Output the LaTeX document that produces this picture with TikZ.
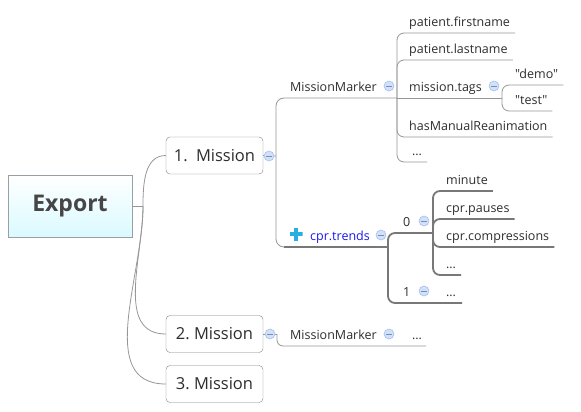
\documentclass[tikz,border=0pt]{standalone}
\usepackage{fontspec}
\setmainfont{Open Sans}[Ligatures=TeXOff]
\usetikzlibrary{positioning}

\definecolor{linegray}{RGB}{150,150,150}
\definecolor{darkline}{RGB}{120,120,120}
\definecolor{boxedge}{RGB}{130,130,130}
\definecolor{txt}{RGB}{45,45,45}
\definecolor{cprblue}{RGB}{25,25,235}
\definecolor{foldfill}{RGB}{210,225,250}
\definecolor{foldedge}{RGB}{165,190,235}
\definecolor{foldmark}{RGB}{120,140,180}
\definecolor{exportfill}{RGB}{218,250,255}
\definecolor{exportedge}{RGB}{150,160,165}
\definecolor{exporttext}{RGB}{70,70,70}
\definecolor{plusfill}{RGB}{40,175,225}

\tikzset{
  line/.style={draw=linegray, line width=0.8pt},
  thickline/.style={draw=darkline, line width=1.8pt},
  exportbox/.style={draw=exportedge, top color=white, bottom color=exportfill,
    minimum width=124pt, minimum height=62pt,
    font=\fontsize{23}{26}\selectfont\bfseries, text=exporttext},
  mission/.style={draw=boxedge, rounded corners=4pt, fill=white,
    minimum width=97pt, minimum height=37pt, inner sep=0pt,
    font=\fontsize{16.5}{18}\selectfont, text=txt},
  leaf/.style={anchor=south west, inner sep=0pt, text height=9pt, text depth=6.5pt,
    font=\fontsize{12.5}{14}\selectfont, text=txt},
  foldbtn/.style={circle, draw=foldedge, fill=foldfill, minimum size=10pt,
    inner sep=0pt, line width=0.6pt,
    path picture={\draw[foldmark, line width=0.8pt]
      ([xshift=-2.6pt]path picture bounding box.center) --
      ([xshift=2.6pt]path picture bounding box.center);}},
  plusicon/.style={minimum size=13pt, inner sep=0pt,
    path picture={
      \fill[plusfill] ([shift={(-6.5pt,-2.3pt)}]path picture bounding box.center)
        rectangle ([shift={(6.5pt,2.3pt)}]path picture bounding box.center);
      \fill[plusfill] ([shift={(-2.3pt,-6.5pt)}]path picture bounding box.center)
        rectangle ([shift={(2.3pt,6.5pt)}]path picture bounding box.center);}},
}

\begin{document}
\begin{tikzpicture}[x=1pt, y=-1pt]
\useasboundingbox (0,0) rectangle (581,412);
% root and missions
\node[exportbox] (export) at (70,206) {Export};
\node[mission] (mA) at (214.5,155.5) {1.\enspace Mission};
\node[mission] (mB) at (214.5,334) {2.\ Mission};
\node[mission] (mC) at (214.5,384) {3.\ Mission};
\coordinate (root) at (143,206);
\draw[line] (export.east) -- (root);
\draw[line] (root) to[out=90,in=180] (mA.west);
\draw[line] (root) to[out=-90,in=180] (mB.west);
\draw[line] (root) to[out=-90,in=180] (mC.west);
% mission 1
\coordinate (fA) at (276,156);
\coordinate (fMM) at (397,98);
\coordinate (fTag) at (502,98);
\coordinate (cprin) at (284,247);
\coordinate (fCpr) at (388,247);
\coordinate (fZero) at (433,233);
\node[leaf] (mmA) at (290,98) {MissionMarker};
\node[leaf] (first) at (409,33) {patient.firstname};
\node[leaf] (last) at (409,60) {patient.lastname};
\node[leaf] (tags) at (409,98) {mission.tags};
\node[leaf] (demo) at (515,85) {"demo"};
\node[leaf] (test) at (515,111) {"test"};
\node[leaf] (manual) at (409,137) {hasManualReanimation};
\node[leaf] (moreA) at (412,162) {…};
\node[leaf, text=cprblue] (cpr) at (310,247) {cpr.trends};
\node[plusicon] (plus) at (296,234) {};
\node[leaf] (zero) at (403,233) {0};
\node[leaf] (one) at (403,303) {1};
\node[leaf] (minute) at (446,191) {minute};
\node[leaf] (pauses) at (446,219) {cpr.pauses};
\node[leaf] (compr) at (446,247) {cpr.compressions};
\node[leaf] (moreZ) at (446,275) {…};
\node[leaf] (moreO) at (446,303) {…};
\draw[line] (mA.east) -- (fA);
\draw[line, rounded corners=8pt] (fA) |- (fMM);
\draw[line, rounded corners=8pt] (fA) |- (cprin);
\draw[thickline] (cprin) -- (fCpr);
\foreach \n in {first, last, manual, moreA} {
  \draw[line, rounded corners=7pt] (fMM) |- ([xshift=5pt]\n.south east);
}
\draw[line] (fMM) -- (fTag);
\foreach \n in {demo, test} {
  \draw[line, rounded corners=7pt] (fTag) |- ([xshift=5pt]\n.south east);
}
\draw[thickline, rounded corners=7pt] (fCpr) |- (fZero);
\draw[thickline, rounded corners=7pt] (fCpr) |- ([xshift=6pt]moreO.south east);
\foreach \n in {minute, pauses, compr, moreZ} {
  \draw[thickline, rounded corners=7pt] (fZero) |- ([xshift=5pt]\n.south east);
}
% mission 2
\coordinate (fB) at (277,334);
\node[leaf] (mmB) at (290,346) {MissionMarker};
\node[leaf] (moreB) at (412,346) {…};
\draw[line] (mB.east) -- (fB);
\draw[line, rounded corners=6pt] (fB) |- ([xshift=4pt]moreB.south east);
% fold buttons
\node[foldbtn] (foldA) at (269,156) {};
\node[foldbtn] (foldB) at (270,334) {};
\node[foldbtn] (foldMM) at (389,86) {};
\node[foldbtn] (foldTag) at (494,86) {};
\node[foldbtn] (foldCpr) at (381,235) {};
\node[foldbtn] (foldZero) at (424,221) {};
\node[foldbtn] (foldOne) at (424,291) {};
\node[foldbtn] (foldMMB) at (389,334) {};
\end{tikzpicture}
\end{document}
